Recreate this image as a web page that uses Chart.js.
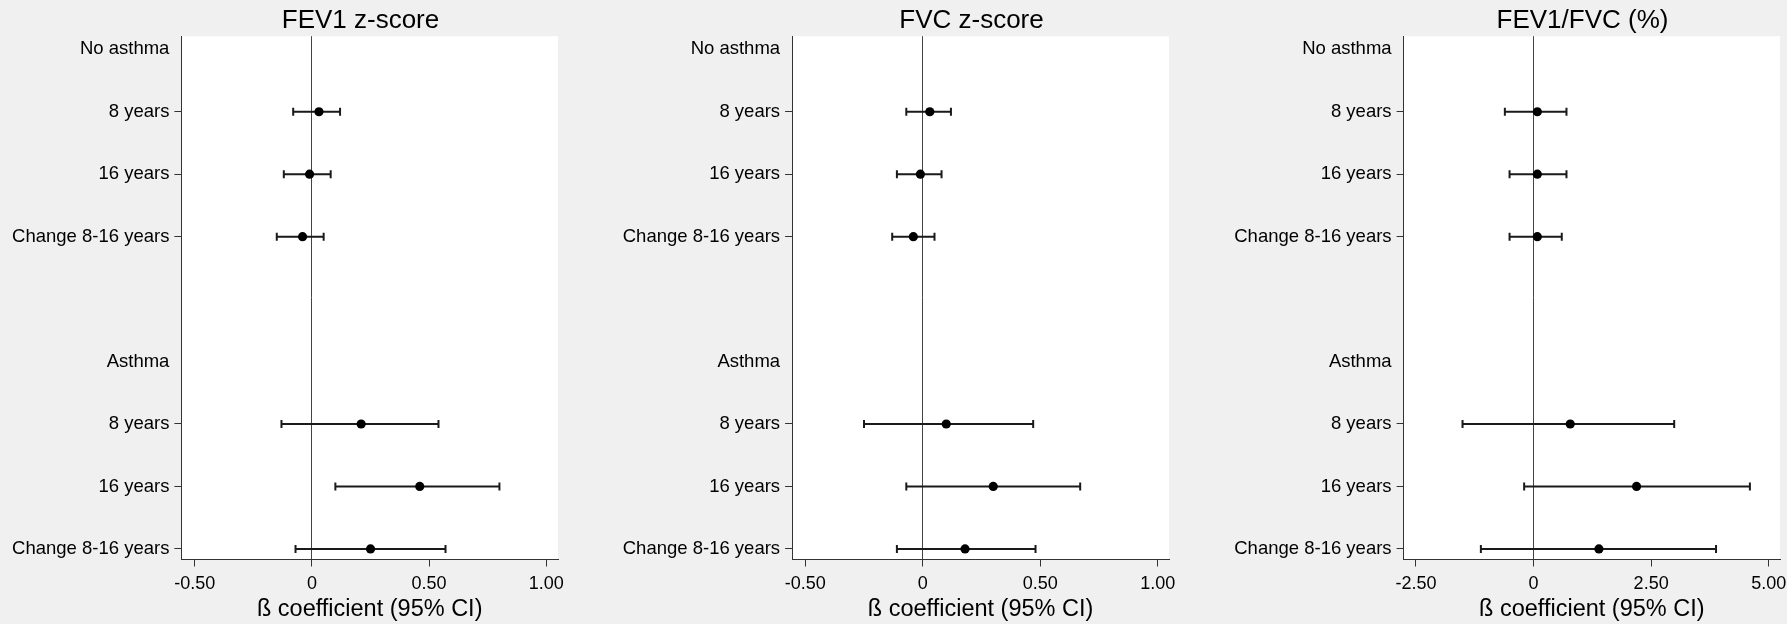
<!DOCTYPE html>
<html>
<head>
<meta charset="utf-8">
<title>Lung function beta coefficients</title>
<script src="https://cdn.jsdelivr.net/npm/chart.js@4/dist/chart.umd.min.js"></script>
<style>
  html, body { margin: 0; padding: 0; background: #f0f0f0; overflow: hidden; }
  #wrap { position: relative; width: 1787px; height: 624px; overflow: hidden; }
  canvas { position: absolute; top: 0; }
</style>
</head>
<body>
<div id="wrap">
  <canvas id="fev1"></canvas>
  <canvas id="fvc"></canvas>
  <canvas id="ratio"></canvas>
</div>
<script>
// rows top to bottom, slot 4 is the blank gap between the two groups
const rowLabels = ['No asthma', '8 years', '16 years', 'Change 8-16 years', '', 'Asthma', '8 years', '16 years', 'Change 8-16 years'];
const headerRows = [0, 4, 5];
const estRows = [1, 2, 3, 6, 7, 8];

// FEV1 z-score
const fev1Beta = [0.03, -0.01, -0.04, 0.21, 0.46, 0.25];
const fev1Lo   = [-0.08, -0.12, -0.15, -0.13, 0.10, -0.07];
const fev1Hi   = [0.12, 0.08, 0.05, 0.54, 0.80, 0.57];

// FVC z-score
const fvcBeta = [0.03, -0.01, -0.04, 0.10, 0.30, 0.18];
const fvcLo   = [-0.07, -0.11, -0.13, -0.25, -0.07, -0.11];
const fvcHi   = [0.12, 0.08, 0.05, 0.47, 0.67, 0.48];

// FEV1/FVC (%)
const ratioBeta = [0.08, 0.08, 0.08, 0.78, 2.19, 1.39];
const ratioLo   = [-0.61, -0.51, -0.51, -1.51, -0.20, -1.12];
const ratioHi   = [0.70, 0.70, 0.60, 2.99, 4.60, 3.88];

const zTicks = [-0.5, 0, 0.5, 1];
const zTickLabels = ['-0.50', '0', '0.50', '1.00'];
const ratioTicks = [-2.5, 0, 2.5, 5];
const ratioTickLabels = ['-2.50', '0', '2.50', '5.00'];

const xTitle = 'ß coefficient (95% CI)';

Chart.defaults.font.family = "'Liberation Sans', Arial, sans-serif";
Chart.defaults.color = '#000';

// canvas placement; an empty spacer axis on the right pushes the title
// a little left of the plot centre, as in the original
const panels = [
    { id: 'fev1', title: 'FEV1 z-score', beta: fev1Beta, lo: fev1Lo, hi: fev1Hi,
      ticks: zTicks, tickLabels: zTickLabels, xMin: -0.557, xMax: 1.05,
      left: 0, yWidth: 181.4 },
    { id: 'fvc', title: 'FVC z-score', beta: fvcBeta, lo: fvcLo, hi: fvcHi,
      ticks: zTicks, tickLabels: zTickLabels, xMin: -0.556, xMax: 1.048,
      left: 611, yWidth: 181.1 },
    { id: 'ratio', title: 'FEV1/FVC (%)', beta: ratioBeta, lo: ratioLo, hi: ratioHi,
      ticks: ratioTicks, tickLabels: ratioTickLabels, xMin: -2.763, xMax: 5.24,
      left: 1222, yWidth: 181.6 }
];
const panelWidth = 721;
const spacerWidth = 163;

// white plot region on the grey page
const plotBackground = {
    id: 'plotBackground',
    beforeDraw(chart) {
        const a = chart.chartArea;
        chart.ctx.save();
        chart.ctx.fillStyle = '#ffffff';
        chart.ctx.fillRect(a.left, a.top, a.right - a.left, a.bottom - a.top);
        chart.ctx.restore();
    }
};

function buildPanel(p) {
    const canvas = document.getElementById(p.id);
    canvas.width = panelWidth;
    canvas.height = 624;
    canvas.style.left = p.left + 'px';

    // each CI as a segment, broken by a null point
    const ciPoints = [];
    estRows.forEach((r, i) => {
        ciPoints.push({ x: p.lo[i], y: r }, { x: p.hi[i], y: r }, { x: null, y: null });
    });

    new Chart(canvas, {
        type: 'scatter',
        data: {
            datasets: [
                {
                    label: 'estimate',
                    data: estRows.map((r, i) => ({ x: p.beta[i], y: r })),
                    pointRadius: 4.6,
                    pointBackgroundColor: '#000',
                    pointBorderWidth: 0
                },
                {
                    label: '95% CI',
                    data: ciPoints,
                    showLine: true,
                    spanGaps: false,
                    borderColor: '#1a1a1a',
                    borderWidth: 2,
                    pointStyle: 'line',
                    rotation: 90,
                    pointRadius: 4,
                    pointBorderWidth: 2,
                    pointBorderColor: '#1a1a1a'
                }
            ]
        },
        options: {
            responsive: false,
            animation: false,
            events: [],
            layout: { padding: 0 },
            plugins: {
                legend: { display: false },
                tooltip: { enabled: false },
                title: {
                    display: true,
                    text: p.title,
                    font: { size: 26, weight: 'normal' },
                    color: '#000',
                    padding: { top: 5, bottom: 0 }
                }
            },
            scales: {
                x: {
                    type: 'linear',
                    min: p.xMin,
                    max: p.xMax,
                    afterBuildTicks: s => { s.ticks = p.ticks.map(v => ({ value: v })); },
                    afterFit: s => { s.height = 64.5; },
                    ticks: {
                        autoSkip: false,
                        maxRotation: 0,
                        padding: 7,
                        font: { size: 18 },
                        callback: v => p.tickLabels[p.ticks.indexOf(v)]
                    },
                    grid: {
                        color: c => (c.tick && c.tick.value === 0) ? '#444' : 'rgba(0,0,0,0)',
                        lineWidth: 1,
                        tickColor: '#333',
                        tickLength: 7
                    },
                    border: { color: '#333', width: 1 },
                    title: {
                        display: true,
                        text: xTitle,
                        font: { size: 23.5 },
                        color: '#000',
                        padding: { top: 0, bottom: 0 }
                    }
                },
                y: {
                    type: 'linear',
                    reverse: true,
                    min: -0.21,
                    max: 8.17,
                    afterBuildTicks: s => { s.ticks = rowLabels.map((_, i) => ({ value: i })); },
                    afterFit: s => { s.width = p.yWidth; },
                    ticks: {
                        autoSkip: false,
                        padding: 5,
                        font: { size: 18.5 },
                        callback: v => rowLabels[v]
                    },
                    grid: {
                        drawOnChartArea: false,
                        tickLength: 7,
                        tickColor: c => headerRows.includes(c.tick && c.tick.value) ? 'rgba(0,0,0,0)' : '#333'
                    },
                    border: { color: '#333', width: 1 }
                },
                // empty right-hand spacer
                spacer: {
                    type: 'linear',
                    position: 'right',
                    ticks: { display: false },
                    grid: { display: false },
                    border: { display: false },
                    afterFit: s => { s.width = spacerWidth; }
                }
            }
        },
        plugins: [plotBackground]
    });
}

panels.forEach(buildPanel);
</script>
</body>
</html>
